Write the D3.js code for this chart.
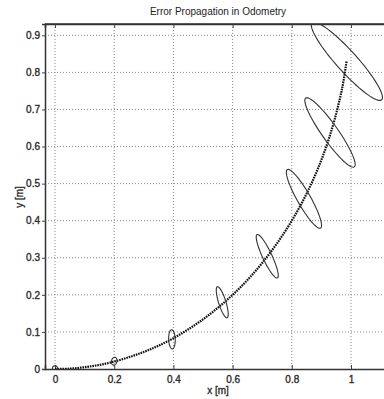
<!DOCTYPE html>
<html><head><meta charset="utf-8">
<script src="https://cdn.jsdelivr.net/npm/d3@7"></script>
<style>body{margin:0;background:#fff}svg{display:block}</style>
</head><body><svg id="c" width="384" height="399"></svg>
<script>
const title = "Error Propagation in Odometry";
const xLabel = "x [m]";
const yLabel = "y [m]";
const xTicks = [0, 0.2, 0.4, 0.6, 0.8, 1];
const xTickLabels = ["0", "0.2", "0.4", "0.6", "0.8", "1"];
const yTicks = [0, 0.1, 0.2, 0.3, 0.4, 0.5, 0.6, 0.7, 0.8, 0.9];
const yTickLabels = ["0", "0.1", "0.2", "0.3", "0.4", "0.5", "0.6", "0.7", "0.8", "0.9"];
// trajectory
const pathX = [0, 0.05, 0.1, 0.15, 0.2, 0.25, 0.3, 0.35, 0.4, 0.45, 0.5, 0.55, 0.6, 0.65, 0.7, 0.75, 0.8, 0.85, 0.9, 0.94, 0.97, 0.985];
const pathY = [0, 0.001, 0.005, 0.011, 0.02, 0.032, 0.046, 0.063, 0.083, 0.107, 0.134, 0.165, 0.2, 0.24, 0.286, 0.339, 0.4, 0.473, 0.564, 0.66, 0.757, 0.83];
// uncertainty ellipses: centre, semi-axes (data units), orientation (deg)
const ellCx = [0, 0.2, 0.395, 0.565, 0.717, 0.841, 0.929, 0.986];
const ellCy = [0, 0.021, 0.08, 0.18, 0.304, 0.459, 0.638, 0.83];
const ellA = [0.009, 0.011, 0.026, 0.045, 0.068, 0.097, 0.124, 0.157];
const ellB = [0.009, 0.009, 0.011, 0.012, 0.015, 0.021, 0.025, 0.031];
const ellAng = [0, 60, 93, -68, -59, -54, -48, -41];

const svg = d3.select("#c");
const L = 45, T = 24, R = 395, B = 369;
const x = d3.scaleLinear().domain([-0.0338, 1.1486]).range([L, R]);
const y = d3.scaleLinear().domain([0, 0.9305]).range([B, T]);

const font = "'Liberation Sans', Arial, sans-serif";
svg.append("defs").append("clipPath").attr("id", "clip")
  .append("rect").attr("x", L).attr("y", T).attr("width", R - L).attr("height", B - T);

// grid
const g = svg.append("g");
g.selectAll(".gx").data(xTicks).enter().append("line")
  .attr("x1", d => x(d)).attr("x2", d => x(d)).attr("y1", T).attr("y2", B)
  .attr("stroke", "#888").attr("stroke-width", 1).attr("stroke-dasharray", "1,2");
g.selectAll(".gy").data(yTicks.slice(1)).enter().append("line")
  .attr("x1", L).attr("x2", R).attr("y1", d => y(d)).attr("y2", d => y(d))
  .attr("stroke", "#888").attr("stroke-width", 1).attr("stroke-dasharray", "1,2");

// axes
const xa = svg.append("g").attr("transform", `translate(0,${B})`)
  .call(d3.axisBottom(x).tickValues(xTicks).tickFormat((d, i) => xTickLabels[i]).tickSize(-4).tickPadding(7));
const xt = svg.append("g").attr("transform", `translate(0,${T})`)
  .call(d3.axisTop(x).tickValues(xTicks).tickFormat("").tickSize(-4));
const ya = svg.append("g").attr("transform", `translate(${L},0)`)
  .call(d3.axisLeft(y).tickValues(yTicks).tickFormat((d, i) => yTickLabels[i]).tickSize(3).tickPadding(2));
[xa, xt, ya].forEach(a => {
  a.select(".domain").attr("stroke", "#333").attr("stroke-width", 1.5);
  a.selectAll(".tick line").attr("stroke", "#444");
  a.selectAll("text").attr("fill", "#222").attr("stroke", "#333").attr("stroke-width", 0.35)
    .style("font-family", font).style("font-size", "10px");
});

// plot content
const pc = svg.append("g").attr("clip-path", "url(#clip)");
const pts = pathX.map((d, i) => [d, pathY[i]]);
pc.append("path").datum(pts)
  .attr("d", d3.line().x(d => x(d[0])).y(d => y(d[1])).curve(d3.curveCatmullRom))
  .attr("fill", "none").attr("stroke", "#111").attr("stroke-width", 2.2)
  .attr("stroke-dasharray", "1.6,0.9");

const ellipses = ellCx.map((cx, i) => ({cx, cy: ellCy[i], a: ellA[i], b: ellB[i], ang: ellAng[i]}));
pc.selectAll(".ell").data(ellipses).enter().append("path")
  .attr("d", e => {
    const th = e.ang * Math.PI / 180, c = Math.cos(th), s = Math.sin(th);
    const ring = d3.range(0, 73).map(k => {
      const t = k / 72 * 2 * Math.PI;
      const u = e.a * Math.cos(t), v = e.b * Math.sin(t);
      return [e.cx + u * c - v * s, e.cy + u * s + v * c];
    });
    return d3.line().x(d => x(d[0])).y(d => y(d[1]))(ring);
  })
  .attr("fill", "none").attr("stroke", "#333").attr("stroke-width", 1.1);

// redraw top border over content
svg.append("line").attr("x1", L).attr("x2", R).attr("y1", T).attr("y2", T).attr("stroke", "#333").attr("stroke-width", 1.5);

// labels
svg.append("text").attr("x", 218).attr("y", 15).attr("text-anchor", "middle")
  .style("font-family", font).style("font-size", "10px").attr("fill", "#222").text(title);
svg.append("text").attr("x", 218).attr("y", 394).attr("text-anchor", "middle")
  .attr("stroke", "#333").attr("stroke-width", 0.35)
  .style("font-family", font).style("font-size", "10px").attr("fill", "#222").text(xLabel);
svg.append("text").attr("transform", "translate(23,197) rotate(-90)").attr("text-anchor", "middle")
  .attr("stroke", "#333").attr("stroke-width", 0.35)
  .style("font-family", font).style("font-size", "10px").attr("fill", "#222").text(yLabel);
</script></body></html>
